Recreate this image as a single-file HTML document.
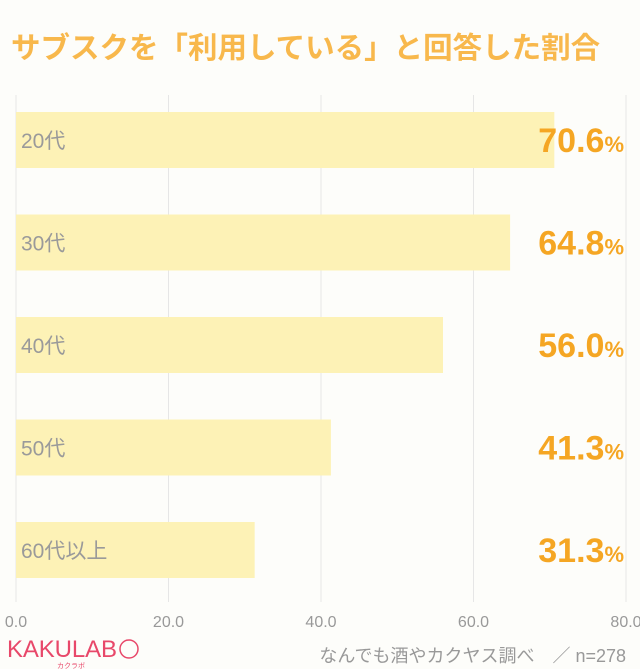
<!DOCTYPE html>
<html><head><meta charset="utf-8"><style>
body{margin:0;background:#fdfdfa;}
svg{display:block}
</style></head><body>
<svg id="c" width="640" height="669" xmlns="http://www.w3.org/2000/svg" font-family="'Liberation Sans','Noto Sans CJK JP',sans-serif">
<rect width="640" height="669" fill="#fdfdfa"/>
<text x="11" y="58" font-size="29.5" font-weight="bold" fill="#f8b84c">サブスクを「利用している」と回答した割合</text>
<g id="grid"></g><g id="bars"></g><g id="ticks"></g>
<g>
<text x="7" y="657" font-size="24" fill="#e8486a" textLength="110">KAKULAB</text>
<circle cx="129" cy="649" r="9" fill="none" stroke="#e8486a" stroke-width="1.5"/>
<text x="57" y="668" font-size="7" fill="#e8486a">カクラボ</text>
</g>
<text x="626" y="662" font-size="18" fill="#999" text-anchor="end">なんでも酒やカクヤス調べ　／ n=278</text>
</svg>
<script>
const categories=["20代","30代","40代","50代","60代以上"];
const values=[70.6,64.8,56.0,41.3,31.3];
const ticks=[0,20,40,60,80];
const NS="http://www.w3.org/2000/svg";
const x0=16,x1=626,xmax=80;
const xs=v=>x0+(x1-x0)*v/xmax;
const top0=112,pitch=102.5,bh=56;
function mk(t,a,p){const e=document.createElementNS(NS,t);for(const k in a)e.setAttribute(k,a[k]);p.appendChild(e);return e;}
const g=document.getElementById('grid'),b=document.getElementById('bars'),tk=document.getElementById('ticks');
ticks.forEach(t=>{
 const l=mk('line',{x1:xs(t),x2:xs(t),y1:95,y2:602,stroke:'#e6e6e6','stroke-width':1},g);
 
 
 const tx=mk('text',{x:xs(t),y:627,'font-size':16,fill:'#999','text-anchor':'middle'},tk);
 tx.textContent=t.toFixed(1);
 
 
});
categories.forEach((c,i)=>{
 const y=top0+i*pitch;
 const r=mk('rect',{x:x0,y:y,width:xs(values[i])-x0,height:bh,fill:'#fdf2b6'},b);
 
 
 const lt=mk('text',{x:21,y:y+bh/2+8,'font-size':21,fill:'#9a9a9a'},b);
 lt.textContent=c;
 
 
 const vt=mk('text',{x:624,y:y+bh/2+12,'font-size':34,'font-weight':'bold',fill:'#f5a623','text-anchor':'end'},b);
 
 
 const n=mk('tspan',{},vt);n.textContent=values[i].toFixed(1);
 const p=mk('tspan',{'font-size':22},vt);p.textContent='%';
});
</script>
</body></html>
